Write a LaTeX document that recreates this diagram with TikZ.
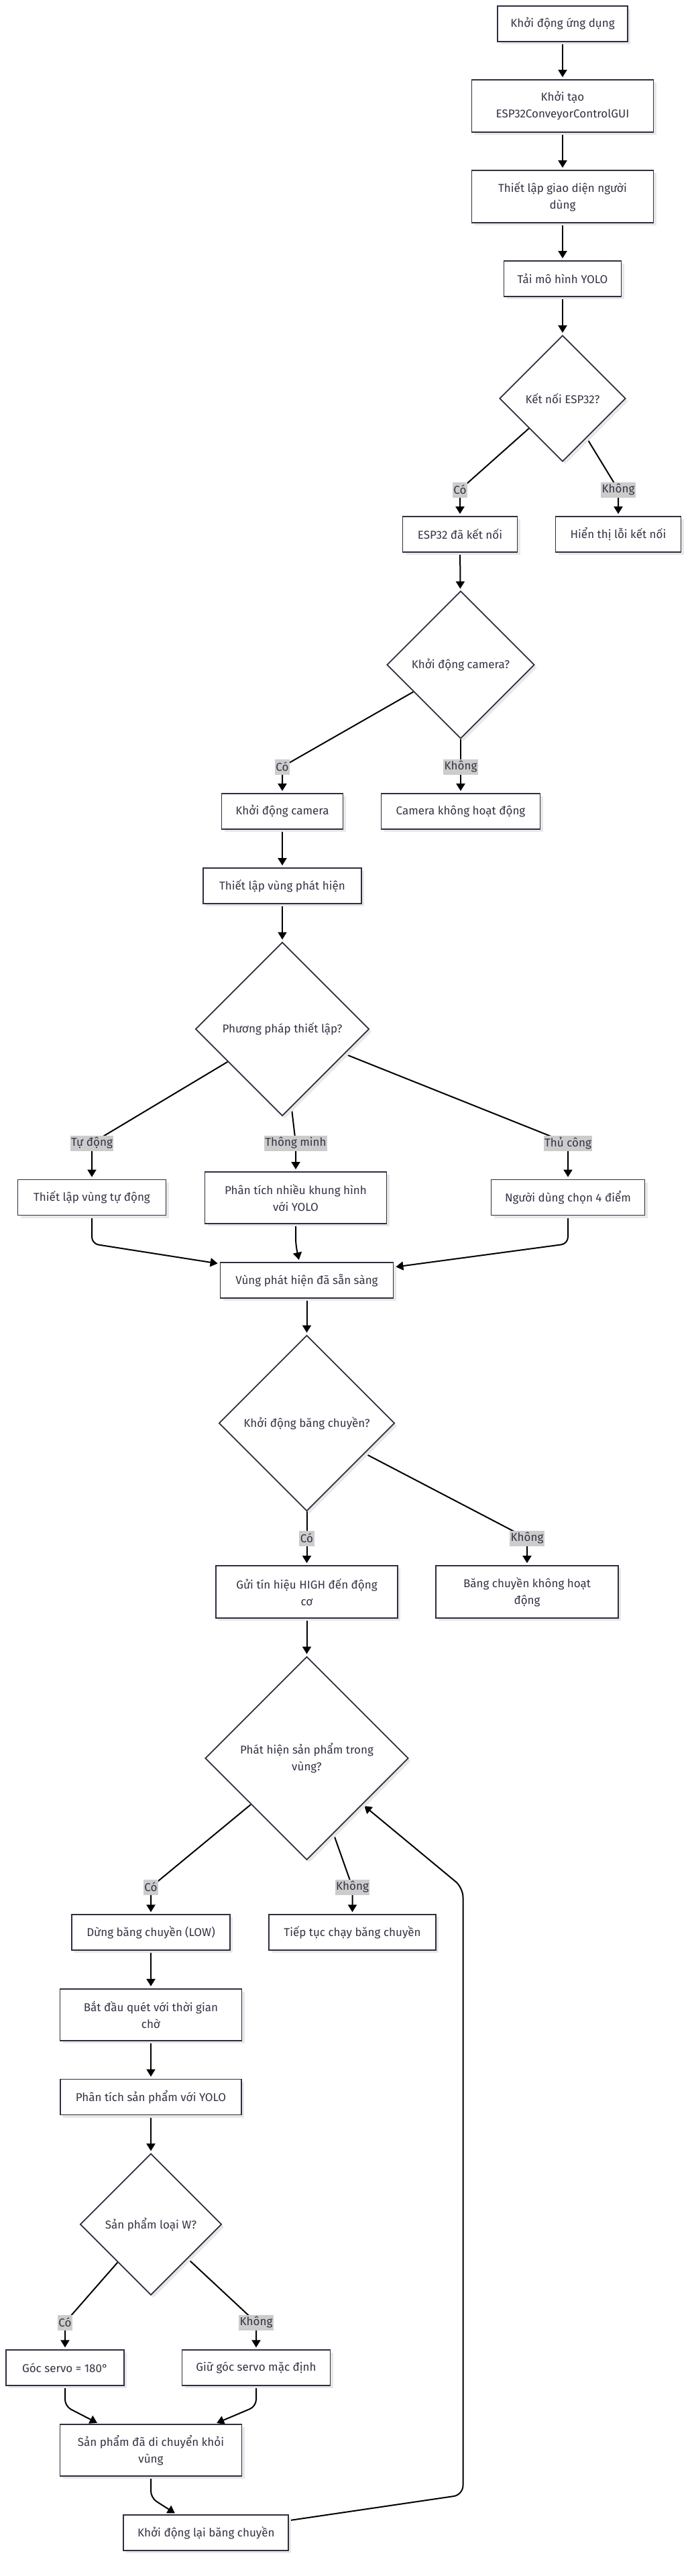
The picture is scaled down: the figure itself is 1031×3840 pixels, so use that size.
\documentclass[tikz,border=0pt]{standalone}
\usepackage{fontspec}
\setmainfont{Fira Sans}
\usetikzlibrary{arrows.meta,shapes.geometric,shadows,calc,backgrounds}
\definecolor{nodeborder}{HTML}{2E2E40}
\definecolor{nodetext}{HTML}{333344}
\definecolor{labelbg}{HTML}{CCCCCC}
\begin{document}
\begin{tikzpicture}[x=1pt,y=-1pt,
  every node/.style={font=\fontsize{17}{25}\selectfont, text=nodetext},
  box/.style 2 args={rectangle, draw=nodeborder, line width=1.8pt, fill=white,
    inner sep=0pt, align=center, minimum width=#1pt, minimum height=#2pt,
    drop shadow={shadow xshift=4pt, shadow yshift=-4pt, fill=black!9, opacity=1}},
  dia/.style={diamond, aspect=1, draw=nodeborder, line width=1.8pt, fill=white,
    inner sep=0pt, align=center, minimum width=#1pt, minimum height=#1pt,
    drop shadow={shadow xshift=4pt, shadow yshift=-4pt, fill=black!9, opacity=1}},
  lab/.style={fill=labelbg, inner xsep=1.5pt, inner ysep=0pt, minimum height=23pt},
  conn/.style={draw=black, line width=2pt, -{Triangle[length=11pt,width=13pt]}, shorten >=3pt}
]
\useasboundingbox (0,0) rectangle (1031,3840);

% ---- nodes ----
\node[box={194}{53}] (n1) at (839,35.5) {Khởi động ứng dụng};
\node[box={271}{78}] (n2) at (839,158) {Khởi tạo\\ESP32ConveyorControlGUI};
\node[box={271}{78}] (n3) at (839,293) {Thiết lập giao diện người\\dùng};
\node[box={175}{53}] (n4) at (839,415.5) {Tải mô hình YOLO};
\node[dia=188] (d1) at (839,594) {Kết nối ESP32?};
\node[lab] (l1a) at (686,730) {Có};
\node[lab] (l1b) at (922,730) {Không};
\node[box={171}{53}] (n5) at (686,796.5) {ESP32 đã kết nối};
\node[box={187}{53}] (n6) at (922,796.5) {Hiển thị lỗi kết nối};

\node[dia=220] (d2) at (687,991) {Khởi động camera?};
\node[lab] (l2a) at (421,1143) {Có};
\node[lab] (l2b) at (687,1143) {Không};
\node[box={181}{53}] (n7) at (421,1209.5) {Khởi động camera};
\node[box={237}{53}] (n8) at (687,1209.5) {Camera không hoạt động};
\node[box={236}{53}] (n9) at (421,1320.5) {Thiết lập vùng phát hiện};

\node[dia=259] (d3) at (421,1534) {Phương pháp thiết lập?};
\node[lab] (l3a) at (137,1704) {Tự động};
\node[lab] (l3b) at (441,1704) {Thông minh};
\node[lab] (l3c) at (847,1704) {Thủ công};
\node[box={221}{53}] (n10) at (137,1785) {Thiết lập vùng tự động};
\node[box={271}{77}] (n11) at (441,1785.5) {Phân tích nhiều khung hình\\với YOLO};
\node[box={229}{53}] (n12) at (847,1785) {Người dùng chọn 4 điểm};
\node[box={258}{53}] (n13) at (457.5,1908.3) {Vùng phát hiện đã sẵn sàng};

\node[dia=262] (d4) at (457.5,2121.5) {Khởi động băng chuyền?};
\node[lab] (l4a) at (457.5,2293) {Có};
\node[lab] (l4b) at (786,2293) {Không};
\node[box={271}{78}] (n14) at (457.5,2373) {Gửi tín hiệu HIGH đến động\\cơ};
\node[box={272}{78}] (n15) at (786,2373) {Băng chuyền không hoạt\\động};

\node[dia=303] (d5) at (457.5,2621) {Phát hiện sản phẩm trong\\vùng?};
\node[lab] (l5a) at (225,2813) {Có};
\node[lab] (l5b) at (525.5,2813) {Không};
\node[box={236}{52.5}] (n16) at (225,2880.5) {Dừng băng chuyền (LOW)};
\node[box={249.5}{52.5}] (n17) at (525.5,2880.5) {Tiếp tục chạy băng chuyền};
\node[box={271}{77}] (n18) at (225,3003.3) {Bắt đầu quét với thời gian\\chờ};
\node[box={270}{53}] (n19) at (225,3126) {Phân tích sản phẩm với YOLO};

\node[dia=211] (d6) at (225,3315.8) {Sản phẩm loại W?};
\node[lab] (l6a) at (97,3462) {Có};
\node[lab] (l6b) at (382,3462) {Không};
\node[box={176}{53}] (n20) at (97,3529.7) {Góc servo = 180°};
\node[box={221}{53}] (n21) at (382,3529.7) {Giữ góc servo mặc định};
\node[box={271}{77}] (n22) at (225,3652.5) {Sản phẩm đã di chuyển khỏi\\vùng};
\node[box={246}{53}] (n23) at (307.3,3775.4) {Khởi động lại băng chuyền};

% ---- bend points ----
\coordinate (k10) at (137,1854);
\coordinate (k11) at (441,1856);
\coordinate (k12) at (847,1854);
\coordinate (k20) at (97,3587);
\coordinate (k21) at (382,3587);
\coordinate (k22) at (225,3723.5);
\coordinate (c1) at (690.5,3719);
\coordinate (c2) at (690.5,2814);

% ---- connectors ----
\begin{pgfonlayer}{background}
\fill[white] (0,0) rectangle (1031,3840);
\draw[conn] (n1) -- (n2);
\draw[conn] (n2) -- (n3);
\draw[conn] (n3) -- (n4);
\draw[conn] (n4) -- (d1);
\draw[conn] (d1) -- (l1a.center) -- (l1a.center |- n5.north);
\draw[conn] (d1) -- (l1b.center) -- (l1b.center |- n6.north);
\draw[conn] (n5) -- (d2);
\draw[conn] (d2) -- (l2a.center) -- (l2a.center |- n7.north);
\draw[conn] (d2) -- (l2b.center) -- (l2b.center |- n8.north);
\draw[conn] (n7) -- (n9);
\draw[conn] (n9) -- (d3);
\draw[conn] (d3) -- (l3a.center) -- (l3a.center |- n10.north);
\draw[conn] (d3) -- (l3b.center) -- (l3b.center |- n11.north);
\draw[conn] (d3) -- (l3c.center) -- (l3c.center |- n12.north);
\draw[conn, rounded corners=10pt] (n10.south) -- (k10) -- ($(n13.north west)+(0,3)$);
\draw[conn, rounded corners=10pt] (n11.south) -- (k11) -- ($(n13.north)+(-11,0)$);
\draw[conn, rounded corners=10pt] (n12.south) -- (k12) -- ($(n13.north east)+(0,8)$);
\draw[conn] (n13) -- (d4);
\draw[conn] (d4) -- (l4a.center) -- (l4a.center |- n14.north);
\draw[conn] (d4) -- (l4b.center) -- (l4b.center |- n15.north);
\draw[conn] (n14) -- (d5);
\draw[conn] (d5) -- (l5a.center) -- (l5a.center |- n16.north);
\draw[conn] (d5) -- (l5b.center) -- (l5b.center |- n17.north);
\draw[conn] (n16) -- (n18);
\draw[conn] (n18) -- (n19);
\draw[conn] (n19) -- (d6);
\draw[conn] (d6) -- (l6a.center) -- (l6a.center |- n20.north);
\draw[conn] (d6) -- (l6b.center) -- (l6b.center |- n21.north);
\draw[conn, rounded corners=10pt] (n20.south) -- (k20) -- ($(n22.north west)+(59,0)$);
\draw[conn, rounded corners=10pt] (n21.south) -- (k21) -- ($(n22.north east)+(-41,0)$);
\draw[conn, rounded corners=10pt] (n22.south) -- (k22) -- ($(n23.north west)+(80,0)$);
\draw[conn, rounded corners=14pt] (n23) -- (c1) -- (c2) -- (d5);
\end{pgfonlayer}
\end{tikzpicture}
\end{document}
